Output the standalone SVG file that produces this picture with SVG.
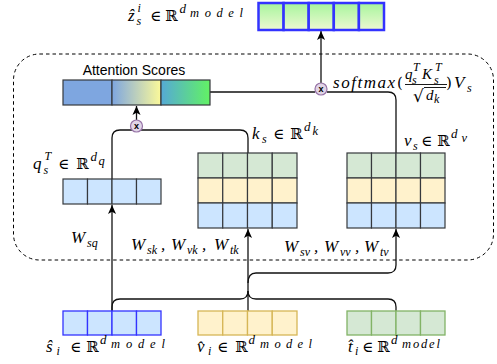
<svg xmlns="http://www.w3.org/2000/svg" width="497" height="364" viewBox="0 0 497 364">
<defs>
<linearGradient id="gOut" x1="0" y1="0" x2="0" y2="1"><stop offset="0" stop-color="#a6f59c"/><stop offset="1" stop-color="#eef8d2"/></linearGradient>
<linearGradient id="gA2" x1="0" y1="0" x2="1" y2="0"><stop offset="0" stop-color="#7ea6e0"/><stop offset="1" stop-color="#fbf999"/></linearGradient>
<linearGradient id="gA3" x1="0" y1="0" x2="1" y2="0"><stop offset="0" stop-color="#55a9d6"/><stop offset="1" stop-color="#62f264"/></linearGradient>
<marker id="arr" viewBox="0 0 10 9" refX="10" refY="4.5" markerWidth="9" markerHeight="9" orient="auto" markerUnits="userSpaceOnUse"><path d="M0,0 L10,4.5 L0,9 L2.5,4.5 z" fill="#000"/></marker>
<style>
.cell{stroke:#36393d;stroke-width:1.2}
.c{fill:none;stroke:#111;stroke-width:1.3}
.m{font-family:"Liberation Serif","DejaVu Serif",serif;font-style:italic;font-size:17px;fill:#000}
.mn{font-family:"Liberation Serif","DejaVu Serif",serif;font-style:italic;font-size:15px;fill:#000}
.ms{font-family:"Liberation Serif","DejaVu Serif",serif;font-style:italic;font-size:12px;fill:#000}
.md{font-family:"Liberation Serif","DejaVu Serif",serif;font-style:italic;font-size:13px;fill:#000}
.mm{font-family:"Liberation Serif","DejaVu Serif",serif;font-style:italic;font-size:12.5px;fill:#000}
.r{font-family:"DejaVu Serif","DejaVu Sans",serif;font-size:15px;fill:#000}
.t{font-family:"Liberation Sans",Arial,sans-serif;font-size:14px;fill:#000}
.x{font-family:"Liberation Sans",Arial,sans-serif;font-size:9px;font-weight:bold;fill:#000}
.mul{fill:#e1d5e7;stroke:#9673a6;stroke-width:1.2}
</style>
</defs>
<rect width="497" height="364" fill="#fff"/>
<rect id="attention-block" x="13.5" y="54" width="480" height="206" rx="26" ry="26" fill="none" stroke="#000" stroke-width="1" stroke-dasharray="3.5 3"/>

<g id="connectors">
<path class="c" d="M112,311 V205" marker-end="url(#arr)"/>
<path class="c" d="M112,179 V138 Q112,130 120,130 H240 Q248,130 248,138 V153"/>
<path class="c" d="M136.5,120 V106" marker-end="url(#arr)"/>
<path class="c" d="M210,92 H315"/>
<path class="c" d="M327,92 H388 Q396,92 396,100 V153"/>
<path class="c" d="M321,83 V31" marker-end="url(#arr)"/>
<path class="c" d="M248,311 V229" marker-end="url(#arr)"/>
<path class="c" d="M112,311 V307 Q112,299 120,299 H240 Q248,299 248,291"/>
<path class="c" d="M396,311 V307 Q396,299 388,299 H256 Q248,299 248,291"/>
<path class="c" d="M248,283 Q248,273 256,273 H388 Q396,273 396,265 V229" marker-end="url(#arr)"/>
</g>

<g id="output-z">
<rect x="258.5" y="3" width="25.1" height="27" fill="url(#gOut)" stroke="#3333ff" stroke-width="2.5"/>
<rect x="283.6" y="3" width="25.1" height="27" fill="url(#gOut)" stroke="#3333ff" stroke-width="2.5"/>
<rect x="308.7" y="3" width="25.1" height="27" fill="url(#gOut)" stroke="#3333ff" stroke-width="2.5"/>
<rect x="333.8" y="3" width="25.1" height="27" fill="url(#gOut)" stroke="#3333ff" stroke-width="2.5"/>
<rect x="358.9" y="3" width="25.1" height="27" fill="url(#gOut)" stroke="#3333ff" stroke-width="2.5"/>
</g>

<g id="attention-scores">
<rect class="cell" x="63" y="80" width="49" height="25" fill="#7ea6e0"/>
<rect class="cell" x="112" y="80" width="49" height="25" fill="url(#gA2)"/>
<rect class="cell" x="161" y="80" width="49" height="25" fill="url(#gA3)"/>
<text class="t" x="134" y="75" text-anchor="middle">Attention Scores</text>
</g>

<g id="q-vector" fill="#cce5ff">
<rect class="cell" x="63" y="179" width="24.5" height="25"/>
<rect class="cell" x="87.5" y="179" width="24.5" height="25"/>
<rect class="cell" x="112" y="179" width="24.5" height="25"/>
<rect class="cell" x="136.5" y="179" width="24.5" height="25"/>
</g>

<g id="k-matrix">
<g fill="#d5e8d4"><rect class="cell" x="198" y="153" width="24.75" height="25"/><rect class="cell" x="222.75" y="153" width="24.75" height="25"/><rect class="cell" x="247.5" y="153" width="24.75" height="25"/><rect class="cell" x="272.25" y="153" width="24.75" height="25"/></g>
<g fill="#fff2cc"><rect class="cell" x="198" y="178" width="24.75" height="25"/><rect class="cell" x="222.75" y="178" width="24.75" height="25"/><rect class="cell" x="247.5" y="178" width="24.75" height="25"/><rect class="cell" x="272.25" y="178" width="24.75" height="25"/></g>
<g fill="#cce5ff"><rect class="cell" x="198" y="203" width="24.75" height="25"/><rect class="cell" x="222.75" y="203" width="24.75" height="25"/><rect class="cell" x="247.5" y="203" width="24.75" height="25"/><rect class="cell" x="272.25" y="203" width="24.75" height="25"/></g>
</g>

<g id="v-matrix">
<g fill="#d5e8d4"><rect class="cell" x="347" y="153" width="24.5" height="25"/><rect class="cell" x="371.5" y="153" width="24.5" height="25"/><rect class="cell" x="396" y="153" width="24.5" height="25"/><rect class="cell" x="420.5" y="153" width="24.5" height="25"/></g>
<g fill="#fff2cc"><rect class="cell" x="347" y="178" width="24.5" height="25"/><rect class="cell" x="371.5" y="178" width="24.5" height="25"/><rect class="cell" x="396" y="178" width="24.5" height="25"/><rect class="cell" x="420.5" y="178" width="24.5" height="25"/></g>
<g fill="#cce5ff"><rect class="cell" x="347" y="203" width="24.5" height="25"/><rect class="cell" x="371.5" y="203" width="24.5" height="25"/><rect class="cell" x="396" y="203" width="24.5" height="25"/><rect class="cell" x="420.5" y="203" width="24.5" height="25"/></g>
</g>

<g id="s-input" fill="#cce5ff" stroke="#3333ff" stroke-width="1.3">
<rect x="63" y="311" width="24.5" height="24"/><rect x="87.5" y="311" width="24.5" height="24"/><rect x="112" y="311" width="24.5" height="24"/><rect x="136.5" y="311" width="24.5" height="24"/>
</g>
<g id="v-input" fill="#fff2cc" stroke="#d6b656" stroke-width="1.3">
<rect x="198" y="311" width="24.75" height="24"/><rect x="222.75" y="311" width="24.75" height="24"/><rect x="247.5" y="311" width="24.75" height="24"/><rect x="272.25" y="311" width="24.75" height="24"/>
</g>
<g id="t-input" fill="#d5e8d4" stroke="#82b366" stroke-width="1.3">
<rect x="347" y="311" width="24.5" height="24"/><rect x="371.5" y="311" width="24.5" height="24"/><rect x="396" y="311" width="24.5" height="24"/><rect x="420.5" y="311" width="24.5" height="24"/>
</g>

<g id="mul-1"><circle class="mul" cx="136.5" cy="126" r="6"/><text class="x" x="136.5" y="129" text-anchor="middle">x</text></g>
<g id="mul-2"><circle class="mul" cx="321" cy="89" r="6"/><text class="x" x="321" y="92" text-anchor="middle">x</text></g>

<g id="labels">
<text class="m" x="128" y="21">ẑ</text><text class="ms" x="137.5" y="12">i</text><text class="ms" x="136.5" y="25">s</text>
<text class="r" x="150" y="21">∈</text><text class="r" x="165" y="21">ℝ</text>
<text class="md" x="179.5" y="13">d</text><text class="mm" x="190" y="17" textLength="53" lengthAdjust="spacing">model</text>

<text class="m" x="333" y="88" textLength="62" lengthAdjust="spacing">softmax</text>
<text class="r" x="397" y="88">(</text>
<text class="mn" x="405" y="79">q</text><text class="ms" x="413" y="71">T</text><text class="ms" x="412" y="84">s</text>
<text class="mn" x="422" y="79">K</text><text class="ms" x="435" y="71">T</text><text class="ms" x="434" y="84">s</text>
<line x1="405" y1="84.5" x2="447" y2="84.5" stroke="#000" stroke-width="0.9"/>
<text class="r" x="413" y="102" style="font-size:17px">√</text>
<line x1="424" y1="87.5" x2="446" y2="87.5" stroke="#000" stroke-width="0.9"/>
<text class="mn" x="426" y="100">d</text><text class="ms" x="434" y="103">k</text>
<text class="r" x="446" y="88">)</text>
<text class="m" x="454" y="88">V</text><text class="ms" x="467" y="92">s</text>

<text class="m" x="33" y="169">q</text><text class="ms" x="44.5" y="160">T</text><text class="ms" x="43.5" y="174">s</text>
<text class="r" x="58" y="169">∈</text><text class="r" x="76" y="169">ℝ</text>
<text class="md" x="90.5" y="161">d</text><text class="mm" x="98.5" y="165">q</text>

<text class="m" x="252" y="139">k</text><text class="ms" x="262" y="143">s</text>
<text class="r" x="273" y="139">∈</text><text class="r" x="290" y="139">ℝ</text>
<text class="md" x="304" y="131">d</text><text class="mm" x="312.5" y="135">k</text>

<text class="m" x="404" y="146">v</text><text class="ms" x="413" y="150">s</text>
<text class="r" x="421" y="146">∈</text><text class="r" x="437" y="146">ℝ</text>
<text class="md" x="451" y="138">d</text><text class="mm" x="461.5" y="142">v</text>

<text class="m" x="71" y="243">W</text><text class="ms" x="87" y="247">sq</text>
<text class="m" x="131" y="250">W</text><text class="ms" x="147" y="254">sk</text><text class="m" x="161" y="250">,</text>
<text class="m" x="171" y="250">W</text><text class="ms" x="187" y="254">vk</text><text class="m" x="202" y="250">,</text>
<text class="m" x="214" y="250">W</text><text class="ms" x="230" y="254">tk</text>
<text class="m" x="284" y="252">W</text><text class="ms" x="300" y="256">sv</text><text class="m" x="314" y="252">,</text>
<text class="m" x="324" y="252">W</text><text class="ms" x="340" y="256">vv</text><text class="m" x="355" y="252">,</text>
<text class="m" x="364" y="252">W</text><text class="ms" x="380" y="256">tv</text>

<text class="m" x="46" y="352">ŝ</text><text class="ms" x="56.5" y="355">i</text>
<text class="r" x="70" y="352">∈</text><text class="r" x="86" y="352">ℝ</text>
<text class="md" x="100" y="344">d</text><text class="mm" x="111" y="348" textLength="54" lengthAdjust="spacing">model</text>

<text class="m" x="197" y="352">v̂</text><text class="ms" x="208" y="355">i</text>
<text class="r" x="217" y="352">∈</text><text class="r" x="235" y="352">ℝ</text>
<text class="md" x="248.5" y="344">d</text><text class="mm" x="260" y="348" textLength="52" lengthAdjust="spacing">model</text>

<text class="m" x="348" y="352">t̂</text><text class="ms" x="355" y="355">i</text>
<text class="r" x="362" y="352">∈</text><text class="r" x="377" y="352">ℝ</text>
<text class="md" x="391" y="344">d</text><text class="mm" x="402" y="348" textLength="38" lengthAdjust="spacing">model</text>
</g>
</svg>
